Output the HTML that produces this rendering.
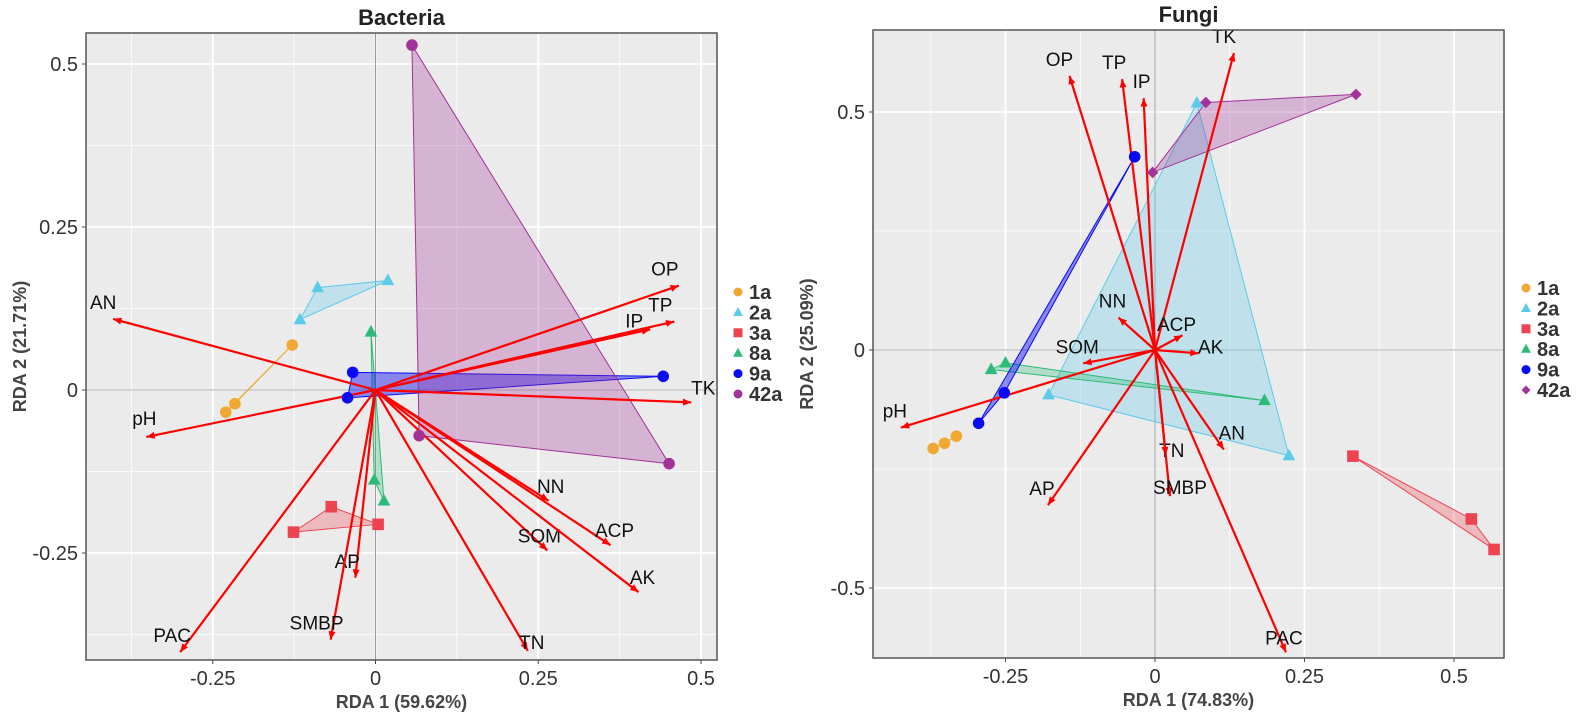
<!DOCTYPE html>
<html><head><meta charset="utf-8"><style>
body{margin:0;background:#fff;font-family:"Liberation Sans",sans-serif;}
svg{display:block}
</style></head><body>
<svg id="chart" width="1576" height="712" viewBox="0 0 1576 712" xmlns="http://www.w3.org/2000/svg"></svg>
<script>
const groups = ['1a','2a','3a','8a','9a','42a'];
const colors = ['#f0a832','#5ccbea','#ee4452','#2dbb78','#0a0af0','#a23398'];
const varNames = ['OP','TP','IP','TK','AN','pH','NN','SOM','ACP','AK','TN','AP','SMBP','PAC'];
// Bacteria
const bacPtsX = [[-0.128,-0.216,-0.230],[-0.089,0.019,-0.116],[-0.068,0.004,-0.126],[-0.007,-0.002,0.013],[-0.035,-0.043,0.442],[0.056,0.067,0.451]];
const bacPtsY = [[0.069,-0.021,-0.034],[0.157,0.168,0.108],[-0.179,-0.206,-0.218],[0.089,-0.138,-0.170],[0.027,-0.012,0.021],[0.529,-0.070,-0.113]];
const bacArrX = [0.466,0.459,0.422,0.485,-0.403,-0.352,0.266,0.264,0.361,0.404,0.234,-0.031,-0.069,-0.300];
const bacArrY = [0.160,0.105,0.093,-0.019,0.109,-0.072,-0.170,-0.246,-0.238,-0.310,-0.400,-0.288,-0.383,-0.402];
const bacXTicks = [-0.25,0,0.25,0.5];
const bacXTickLabels = ['-0.25','0','0.25','0.5'];
const bacYTicks = [-0.25,0,0.25,0.5];
const bacYTickLabels = ['-0.25','0','0.25','0.5'];
// Fungi
const funPtsX = [[-0.371,-0.352,-0.332],[0.070,-0.178,0.224],[0.331,0.529,0.567],[-0.274,-0.250,0.183],[-0.034,-0.252,-0.295],[0.085,0.336,-0.004]];
const funPtsY = [[-0.207,-0.196,-0.181],[0.519,-0.094,-0.222],[-0.223,-0.355,-0.419],[-0.041,-0.027,-0.106],[0.406,-0.090,-0.154],[0.520,0.537,0.373]];
const funArrX = [-0.143,-0.055,-0.019,0.132,0.115,-0.425,-0.061,-0.120,0.046,0.073,0.018,-0.179,0.025,0.219];
const funArrY = [0.576,0.569,0.529,0.624,-0.209,-0.163,0.068,-0.028,0.031,-0.007,-0.221,-0.326,-0.307,-0.635];
const funXTicks = [-0.25,0,0.25,0.5];
const funXTickLabels = ['-0.25','0','0.25','0.5'];
const funYTicks = [-0.5,0,0.5];
const funYTickLabels = ['-0.5','0','0.5'];

const NS='http://www.w3.org/2000/svg';
const svg=document.getElementById('chart');
function mk(tag,attrs,parent){const e=document.createElementNS(NS,tag);for(const k in attrs)e.setAttribute(k,attrs[k]);(parent||svg).appendChild(e);return e;}

function shape(g,kind,cx,cy,col,r){
  let e;
  if(kind==='circle') e=mk('circle',{cx:cx,cy:cy,r:r,fill:col},g);
  else if(kind==='tri') e=mk('polygon',{points:`${cx},${cy-r*1.2} ${cx-r*1.1},${cy+r*0.8} ${cx+r*1.1},${cy+r*0.8}`,fill:col},g);
  else if(kind==='square') e=mk('rect',{x:cx-r,y:cy-r,width:2*r,height:2*r,fill:col},g);
  else if(kind==='diamond') e=mk('polygon',{points:`${cx},${cy-r} ${cx+r},${cy} ${cx},${cy+r} ${cx-r},${cy}`,fill:col},g);
  return e;
}

function panel(p){
  const g=mk('g',{});
  
  
  const sx=v=>p.x0+v*p.ux, sy=v=>p.y0-v*p.uy;
  const bg=mk('rect',{x:p.L,y:p.T,width:p.R-p.L,height:p.B-p.T,fill:'#ebebeb'},g);
  
  
  const xs=p.xt, ys=p.yt;
  const xstep=xs[1]-xs[0], ystep=ys[1]-ys[0];
  for(let v=xs[0]-xstep*2+xstep/2; v<xs[xs.length-1]+xstep*2; v+=xstep){const X=sx(v); if(X>p.L&&X<p.R) mk('line',{x1:X,x2:X,y1:p.T,y2:p.B,stroke:'#fff','stroke-width':0.8},g);}
  for(let v=ys[0]-ystep*2+ystep/2; v<ys[ys.length-1]+ystep*2; v+=ystep){const Y=sy(v); if(Y>p.T&&Y<p.B) mk('line',{x1:p.L,x2:p.R,y1:Y,y2:Y,stroke:'#fff','stroke-width':0.8},g);}
  xs.forEach((v,i)=>{const X=sx(v);mk('line',{x1:X,x2:X,y1:p.T,y2:p.B,stroke:'#fff','stroke-width':1.8},g);
    mk('line',{x1:X,x2:X,y1:p.B,y2:p.B+4,stroke:'#444','stroke-width':1},g);
    const t=mk('text',{x:X,y:p.B+25,'text-anchor':'middle','font-size':20,fill:'#333'},g);t.textContent=p.xl[i];
    });
  ys.forEach((v,i)=>{const Y=sy(v);mk('line',{x1:p.L,x2:p.R,y1:Y,y2:Y,stroke:'#fff','stroke-width':1.8},g);
    mk('line',{x1:p.L-4,x2:p.L,y1:Y,y2:Y,stroke:'#444','stroke-width':1},g);
    const t=mk('text',{x:p.L-8,y:Y+7,'text-anchor':'end','font-size':20,fill:'#333'},g);t.textContent=p.yl[i];
    });
  mk('line',{x1:sx(0),x2:sx(0),y1:p.T,y2:p.B,stroke:'#999','stroke-width':1},g);
  mk('line',{x1:p.L,x2:p.R,y1:sy(0),y2:sy(0),stroke:'#aaa','stroke-width':1},g);
  groups.forEach((gn,i)=>{
    const pts=p.px[i].map((v,j)=>`${sx(v)},${sy(p.py[i][j])}`).join(' ');
    const poly=mk('polygon',{points:pts,fill:colors[i],'fill-opacity':(gn==='9a'?0.45:0.3),stroke:colors[i],'stroke-width':1},g);
    
    
  });
  varNames.forEach((vn,i)=>{
    const X1=sx(0),Y1=sy(0),X2=sx(p.ax[i]),Y2=sy(p.ay[i]);
    const ln=mk('line',{x1:X1,y1:Y1,x2:X2,y2:Y2,stroke:'#f00','stroke-width':2.2},g);
    
    
    const a=Math.atan2(Y2-Y1,X2-X1),L=9,w=0.4;
    mk('polygon',{points:`${X2},${Y2} ${X2-L*Math.cos(a-w)},${Y2-L*Math.sin(a-w)} ${X2-L*Math.cos(a+w)},${Y2-L*Math.sin(a+w)}`,fill:'#f00'},g);
    const off=(p.lab&&p.lab[vn])||[-6,-12];
    const t=mk('text',{x:X2+off[0],y:Y2+off[1],'text-anchor':'middle','font-size':19,fill:'#111'},g);
    t.textContent=vn;
    
    
  });
  groups.forEach((gn,i)=>{
    p.px[i].forEach((v,j)=>{
      const e=shape(g,p.shapes[i],sx(v),sy(p.py[i][j]),colors[i],5.8);
      
      
    });
  });
  mk('rect',{x:p.L,y:p.T,width:p.R-p.L,height:p.B-p.T,fill:'none',stroke:'#555','stroke-width':1.5},g);
  const ti=mk('text',{x:(p.L+p.R)/2,y:p.T-8,'text-anchor':'middle','font-size':22,'font-weight':'bold',fill:'#222'},g);
  ti.textContent=p.title;
  const xt=mk('text',{x:(p.L+p.R)/2,y:p.B+48,'text-anchor':'middle','font-size':18,'font-weight':'bold',fill:'#444'},g);
  xt.textContent=p.xtitle;
  const yc=(p.T+p.B)/2, yx=p.L-60;
  const yt=mk('text',{x:yx,y:yc,'text-anchor':'middle','font-size':18,'font-weight':'bold',fill:'#444',transform:`rotate(-90 ${yx} ${yc})`},g);
  yt.textContent=p.ytitle;
  const lg=mk('g',{},g);
  
  
  groups.forEach((gn,i)=>{
    const Y=p.legY+i*20.4;
    shape(lg,p.lshapes[i],p.legX,Y,colors[i],4.5);
    const t=mk('text',{x:p.legX+11,y:Y+7,'font-size':20,'font-weight':'bold',fill:'#333'},lg);
    t.textContent=gn;
    
    
  });
}

panel({name:'bacteria',title:'Bacteria',L:86,R:717,T:33,B:660,x0:375.5,ux:651,y0:390,uy:652,
  xt:bacXTicks,xl:bacXTickLabels,yt:bacYTicks,yl:bacYTickLabels,px:bacPtsX,py:bacPtsY,ax:bacArrX,ay:bacArrY,
  shapes:['circle','tri','square','tri','circle','circle'],lshapes:['circle','tri','square','tri','circle','circle'],
  xtitle:'RDA 1 (59.62%)',ytitle:'RDA 2 (21.71%)',legX:738,legY:292,
  lab:{TK:[12,-8],AN:[-10,-10],pH:[-2,-12],TP:[-14,-10],IP:[-16,-2],OP:[-14,-10],NN:[2,-8],SOM:[-8,-8],ACP:[4,-8],AK:[4,-8],TN:[4,-2],AP:[-8,-10],SMBP:[-14,-10],PAC:[-8,-10]}});

panel({name:'fungi',title:'Fungi',L:873,R:1504,T:30,B:658,x0:1155,ux:598,y0:350,uy:476,
  xt:funXTicks,xl:funXTickLabels,yt:funYTicks,yl:funYTickLabels,px:funPtsX,py:funPtsY,ax:funArrX,ay:funArrY,
  shapes:['circle','tri','square','tri','circle','diamond'],lshapes:['circle','tri','square','tri','circle','diamond'],
  xtitle:'RDA 1 (74.83%)',ytitle:'RDA 2 (25.09%)',legX:1526,legY:288,
  lab:{TK:[-10,-10],OP:[-10,-10],TP:[-8,-10],IP:[-2,-10],NN:[-6,-10],ACP:[-6,-4],AK:[12,0],SOM:[-6,-10],pH:[-6,-10],TN:[6,2],AN:[8,-10],SMBP:[10,-2],AP:[-6,-10],PAC:[-2,-8]}});
</script>
</body></html>
